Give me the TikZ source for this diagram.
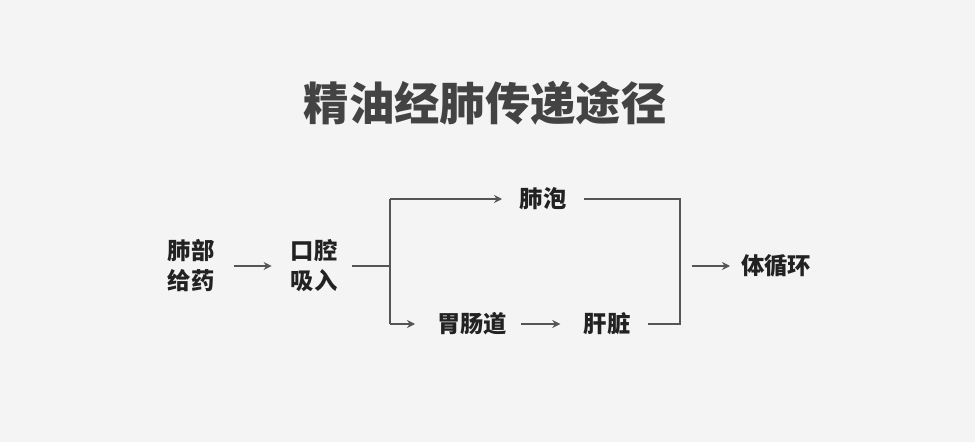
\documentclass[tikz,border=0pt]{standalone}
\usepackage{fontspec}
\setmainfont{Noto Sans CJK SC}
\usetikzlibrary{arrows.meta}
\definecolor{bg}{HTML}{F4F4F4}
\definecolor{ink}{HTML}{222222}
\definecolor{ln}{HTML}{555555}
\begin{document}
\begin{tikzpicture}[x=0.75pt,y=-0.75pt,
  lbl/.style={inner sep=0pt,text=ink,font=\fontsize{17.5}{22.5}\selectfont\bfseries,align=center},
  conn/.style={draw=ln,line width=1.1pt},
  arr/.style={conn,-{Stealth[length=6pt,width=6pt]}}]
\fill[bg] (0,0) rectangle (975,442);
\useasboundingbox (0,0) rectangle (975,442);
\node[inner sep=0pt,text=ink!85,font=\fontsize{34}{40}\selectfont\bfseries] (title) at (485,103) {精油经肺传递途径};
\node[lbl] (a) at (191,266) {肺部\\给药};
\node[lbl] (b) at (314,266) {口腔\\吸入};
\node[lbl] (c) at (543,199) {肺泡};
\node[lbl] (d) at (472,324) {胃肠道};
\node[lbl] (e) at (607,324) {肝脏};
\node[lbl] (f) at (776,266) {体循环};
\coordinate (j) at (390,266);
\coordinate (jt) at (390,199);
\coordinate (jb) at (390,324);
\coordinate (r) at (680,199);
\coordinate (rb) at (680,324);
\draw[arr] (a.east) ++(19,0) -- ++(38,0);
\draw[conn] (b.east) ++(14,0) -- (j);
\draw[conn] (jt) -- (jb);
\draw[arr] (jt) -- (502,199);
\draw[arr] (jb) -- (415,324);
\draw[arr] (d.east) ++(14,0) -- ++(39,0);
\draw[conn] (584,199) -- (r) -- (rb) -- (648,324);
\draw[arr] (692,266) -- (730,266);
\end{tikzpicture}
\end{document}
